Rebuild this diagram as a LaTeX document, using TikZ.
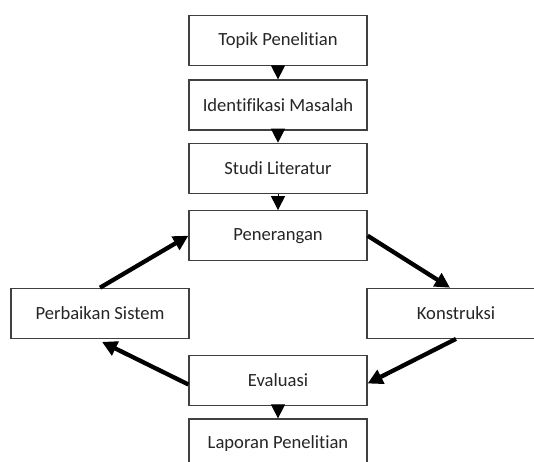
\documentclass[tikz,border=0pt]{standalone}
\usepackage{fontspec}
\setmainfont[Ligatures={NoCommon,NoRare,NoContextual}]{Carlito}
\usetikzlibrary{arrows.meta}
\begin{document}
\begin{tikzpicture}[x=1pt,y=1pt,
  box/.style={draw=black!75, line width=1.2pt, fill=white, minimum width=178pt, minimum height=50pt, inner sep=0pt,
    font=\fontsize{18.6pt}{22pt}\selectfont, text=black!85},
  downarr/.style={-{Triangle[width=14pt,length=14pt]}, line width=1pt},
  cycarr/.style={-{Triangle[width=15pt,length=15pt]}, line width=4.3pt}]
\clip (0,0) rectangle (534,461);
\fill[white] (0,0) rectangle (534,461);
\node[box] (topik) at (278,420.5) {Topik Penelitian};
\node[box] (ident) at (278,356) {Identifikasi Masalah};
\node[box] (studi) at (278,292.7) {Studi Literatur};
\node[box] (pen) at (278,225.3) {Penerangan};
\node[box] (per) at (100,147.7) {Perbaikan Sistem};
\node[box] (kon) at (456,147.7) {Konstruksi};
\node[box] (eval) at (278,80.5) {Evaluasi};
\node[box] (lap) at (278,17) {Laporan Penelitian};
\draw[downarr] (topik.south) -- (ident.north);
\draw[downarr] (ident.south) -- (studi.north);
\draw[downarr] (studi.south) -- (pen.north);
\draw[downarr] (eval.south) -- (lap.north);
\coordinate (konin) at ([xshift=-6pt]kon.north);
\coordinate (evalin) at ([yshift=-3pt]eval.east);
\coordinate (evalout) at ([yshift=-4pt]eval.west);
\coordinate (perin) at ([xshift=2pt,yshift=-3pt]per.south);
\draw[cycarr] (pen.east) -- (konin);
\draw[cycarr] (kon.south) -- (evalin);
\draw[cycarr] (evalout) -- (perin);
\draw[cycarr] (per.north) -- (pen.west);
\end{tikzpicture}
\end{document}
